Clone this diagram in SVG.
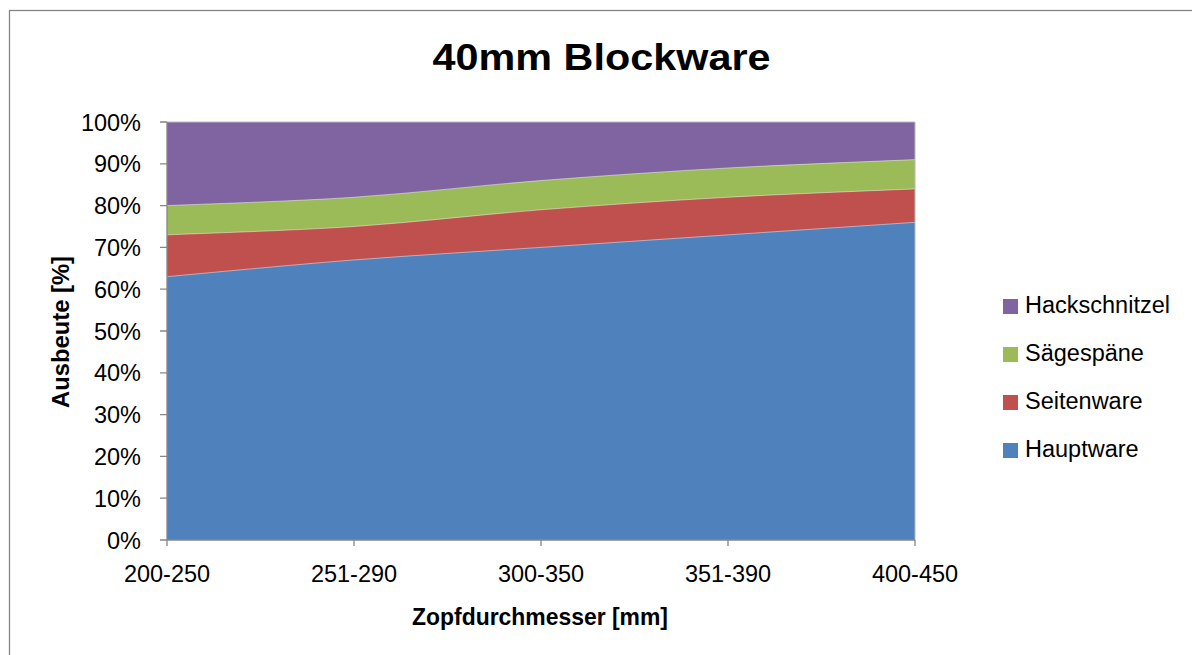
<svg xmlns="http://www.w3.org/2000/svg" width="1192" height="655" viewBox="0 0 1192 655">
<style>
text{font-family:"Liberation Sans",Arial,sans-serif;fill:#000}
.tk{font-size:23.5px}
.ttl{font-weight:bold}
.ax{stroke:#868686;stroke-width:1.3;fill:none}
.edge{fill:none;stroke:#ffffff;stroke-opacity:0.45;stroke-width:1}
</style>
<rect width="1192" height="655" fill="#fff"/>
<rect x="9.5" y="10.5" width="1200" height="700" fill="none" stroke="#868686" stroke-width="1.3"/>
<g id="title"><text class="ttl" x="601.5" y="70" font-size="36.5" text-anchor="middle" textLength="338" lengthAdjust="spacingAndGlyphs">40mm Blockware</text></g>
<g id="plot">
<rect id="hackschnitzel" x="167" y="122" width="748" height="418" fill="#8064A2"/>
<path id="saegespaene" fill="#9BBB59" d="M167,205.6 C198.17,204.21 291.67,201.42 354,197.24 C416.33,193.06 478.67,185.40 541,180.52 C603.33,175.64 665.67,171.46 728,167.98 C790.33,164.50 883.83,161.01 915,159.62 L915,540 L167,540 Z"/>
<path id="seitenware" fill="#C0504D" d="M167,234.86 C198.17,233.47 291.67,230.68 354,226.5 C416.33,222.32 478.67,214.66 541,209.78 C603.33,204.90 665.67,200.72 728,197.24 C790.33,193.76 883.83,190.27 915,188.88 L915,540 L167,540 Z"/>
<path id="hauptware" fill="#4F81BD" d="M167,276.66 C198.17,273.87 291.67,264.82 354,259.94 C416.33,255.06 478.67,251.58 541,247.4 C603.33,243.22 665.67,239.04 728,234.86 C790.33,230.68 883.83,224.41 915,222.32 L915,540 L167,540 Z"/>
<path class="edge" d="M167,205.6 C198.17,204.21 291.67,201.42 354,197.24 C416.33,193.06 478.67,185.40 541,180.52 C603.33,175.64 665.67,171.46 728,167.98 C790.33,164.50 883.83,161.01 915,159.62"/>
<path class="edge" d="M167,234.86 C198.17,233.47 291.67,230.68 354,226.5 C416.33,222.32 478.67,214.66 541,209.78 C603.33,204.90 665.67,200.72 728,197.24 C790.33,193.76 883.83,190.27 915,188.88"/>
<path class="edge" d="M167,276.66 C198.17,273.87 291.67,264.82 354,259.94 C416.33,255.06 478.67,251.58 541,247.4 C603.33,243.22 665.67,239.04 728,234.86 C790.33,230.68 883.83,224.41 915,222.32"/>
<path d="M167,122 H915 V540" fill="none" stroke="#b8b8b8" stroke-width="1"/>
</g>
<g id="axes">
<path class="ax" d="M167,122 V540 H915"/>
<path class="ax" d="M160,122 H167 M160,163.8 H167 M160,205.6 H167 M160,247.4 H167 M160,289.2 H167 M160,331 H167 M160,372.8 H167 M160,414.6 H167 M160,456.4 H167 M160,498.2 H167 M160,540 H167"/>
<path class="ax" d="M167,540 V546 M354,540 V546 M541,540 V546 M728,540 V546 M915,540 V546"/>
</g>
<g id="y-labels">
<text class="tk" x="141" y="130.5" text-anchor="end">100%</text>
<text class="tk" x="141" y="172.3" text-anchor="end">90%</text>
<text class="tk" x="141" y="214.1" text-anchor="end">80%</text>
<text class="tk" x="141" y="255.9" text-anchor="end">70%</text>
<text class="tk" x="141" y="297.7" text-anchor="end">60%</text>
<text class="tk" x="141" y="339.5" text-anchor="end">50%</text>
<text class="tk" x="141" y="381.3" text-anchor="end">40%</text>
<text class="tk" x="141" y="423.1" text-anchor="end">30%</text>
<text class="tk" x="141" y="464.9" text-anchor="end">20%</text>
<text class="tk" x="141" y="506.7" text-anchor="end">10%</text>
<text class="tk" x="141" y="548.5" text-anchor="end">0%</text>
</g>
<g id="x-labels">
<text class="tk" x="167" y="582" text-anchor="middle">200-250</text>
<text class="tk" x="354" y="582" text-anchor="middle">251-290</text>
<text class="tk" x="541" y="582" text-anchor="middle">300-350</text>
<text class="tk" x="728" y="582" text-anchor="middle">351-390</text>
<text class="tk" x="915" y="582" text-anchor="middle">400-450</text>
</g>
<g id="x-title"><text class="ttl" x="540" y="625" font-size="24.5" text-anchor="middle" textLength="256" lengthAdjust="spacingAndGlyphs">Zopfdurchmesser [mm]</text></g>
<g id="y-title"><text class="ttl" transform="translate(69,332) rotate(-90)" x="0" y="0" font-size="24.5" text-anchor="middle" textLength="152" lengthAdjust="spacingAndGlyphs">Ausbeute [%]</text></g>
<g id="legend">
<g id="leg-hackschnitzel"><rect x="1003" y="299" width="15" height="15" fill="#8064A2"/><text class="tk" x="1025" y="313">Hackschnitzel</text></g>
<g id="leg-saegespaene"><rect x="1003" y="347" width="15" height="15" fill="#9BBB59"/><text class="tk" x="1025" y="361">Sägespäne</text></g>
<g id="leg-seitenware"><rect x="1003" y="395" width="15" height="15" fill="#C0504D"/><text class="tk" x="1025" y="409">Seitenware</text></g>
<g id="leg-hauptware"><rect x="1003" y="443" width="15" height="15" fill="#4F81BD"/><text class="tk" x="1025" y="457">Hauptware</text></g>
</g>
</svg>
